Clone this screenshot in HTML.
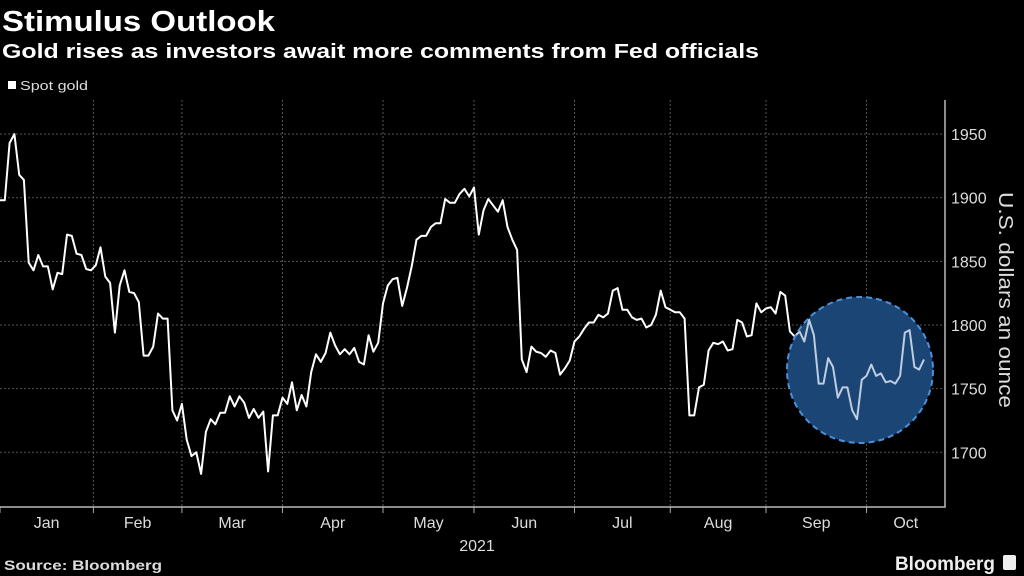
<!DOCTYPE html>
<html><head><meta charset="utf-8"><style>
html,body{margin:0;padding:0;background:#000;}
svg{display:block;font-family:"Liberation Sans",sans-serif;}
</style></head><body>
<svg id="chart" width="1024" height="576" viewBox="0 0 1024 576">
<rect width="1024" height="576" fill="#000"/>
<text x="2" y="31" font-size="29" font-weight="bold" fill="#fff" textLength="273" lengthAdjust="spacingAndGlyphs">Stimulus Outlook</text>
<text x="2" y="58" font-size="20" font-weight="bold" fill="#fff" textLength="757" lengthAdjust="spacingAndGlyphs">Gold rises as investors await more comments from Fed officials</text>
<rect x="8" y="81" width="8" height="8" fill="#fff"/>
<text x="20" y="90" font-size="13" fill="#ddd" textLength="68" lengthAdjust="spacingAndGlyphs">Spot gold</text>
<g id="grid"></g>
<g id="axes"></g>
<circle cx="860" cy="370" r="73" fill="#163d68"/>
<path id="line" fill="none" stroke="#fff" stroke-width="2" stroke-linejoin="round"/>
<circle cx="860" cy="370" r="73" fill="rgba(40,90,150,0.3)" stroke="#4a90d9" stroke-width="2" stroke-dasharray="6,4"/>
<text transform="translate(999,300) rotate(90)" text-anchor="middle" font-size="20" fill="#ddd" textLength="216" lengthAdjust="spacingAndGlyphs">U.S. dollars an ounce</text>
<text x="477" y="551" text-anchor="middle" font-size="16" fill="#ddd">2021</text>
<text x="4" y="570" font-size="14" font-weight="bold" fill="#ddd" textLength="158" lengthAdjust="spacingAndGlyphs">Source: Bloomberg</text>
<text x="895" y="570" font-size="19" font-weight="bold" fill="#eee" textLength="100" lengthAdjust="spacingAndGlyphs">Bloomberg</text>
<rect x="1003" y="555" width="13" height="15" rx="2" fill="#eee"/>
</svg>
<script>
const values = [1898,1898,1943,1950,1918,1914,1849,1843,1855,1846,1846,1828,1841,1840,1871,1870,1856,1855,1844,1843,1847,1861,1838,1833,1794,1831,1843,1826,1825,1818,1776,1776,1783,1809,1805,1805,1733,1725,1738,1710,1697,1700,1683,1716,1726,1722,1731,1731,1744,1736,1744,1739,1727,1734,1727,1732,1685,1729,1729,1743,1738,1755,1733,
1745,1736,1763,1777,1771,1778,1794,1784,1777,1781,1777,1782,1771,1769,1792,1779,1786,1817,1831,1836,1837,1815,1829,1846,1867,1870,1870,1877,1880,1880,1899,1896,1896,1903,1907,1901,1908,1871,1890,1899,1894,1889,1898,1877,1867,1859,1773,1763,1783,1779,1778,1775,1780,1778,1761,1766,1772,1787,1791,1797,1802,1802,1808,1806,1809,1827,1829,
1812,1812,1806,1804,1805,1798,1800,1808,1827,1814,1812,1810,1810,1805,1729,1729,1751,1753,1780,1786,1785,1787,1780,1781,1804,1802,1791,1792,1817,1810,1813,1814,1809,1826,1823,1795,1791,1795,1787,1804,1792,1754,1754,1774,1767,1743,1751,1751,1733,1726,1757,1760,1769,1760,1762,1755,1756,1754,1760,1794,1796,1767,1765,1773];
const yTicks = [1700,1750,1800,1850,1900,1950];
const months = ["Jan","Feb","Mar","Apr","May","Jun","Jul","Aug","Sep","Oct"];
const monthStartIdx = [0,19.5,38,59,80,99,120,140,160,181];

const NS="http://www.w3.org/2000/svg";
const X0=0,X1=924,PR=945,PB=507,PT=100;
function xs(i){return X0+(X1-X0)*i/(values.length-1);}
function ys(v){return 325-(v-1800)*1.273;}
const grid=document.getElementById('grid'), axes=document.getElementById('axes');
function mk(tag,attrs,parent){const e=document.createElementNS(NS,tag);for(const k in attrs)e.setAttribute(k,attrs[k]);parent.appendChild(e);return e;}
yTicks.forEach(v=>{
  const l=mk('line',{x1:0,x2:PR,y1:ys(v),y2:ys(v),stroke:'#555','stroke-width':1,'stroke-dasharray':'2,2'},grid);
  
  
  const t=mk('text',{x:951,y:ys(v)+6,'font-size':16,fill:'#ddd'},axes);
  t.textContent=v;
  
  
});
months.forEach((m,k)=>{
  const x=xs(monthStartIdx[k]);
  const nx=k<months.length-1?xs(monthStartIdx[k+1]):PR;
  if(k>0){
    const g=mk('line',{x1:x,x2:x,y1:PT,y2:PB,stroke:'#555','stroke-width':1,'stroke-dasharray':'2,2'},grid);
    
    
  }
  const tk=mk('line',{x1:x,x2:x,y1:PB,y2:PB+6,stroke:'#aaa','stroke-width':1},axes);
  
  
  const t=mk('text',{x:(x+nx)/2,y:528,'text-anchor':'middle','font-size':16,fill:'#ddd'},axes);
  t.textContent=m;
  
  
});
const ax=mk('path',{d:`M0 ${PB} H${PR} V${PT}`,stroke:'#bbb','stroke-width':1.5,fill:'none'},axes);


document.getElementById('line').setAttribute('d',values.map((v,i)=>(i?'L':'M')+xs(i).toFixed(1)+' '+ys(v).toFixed(1)).join(' '));
</script>
</body></html>
